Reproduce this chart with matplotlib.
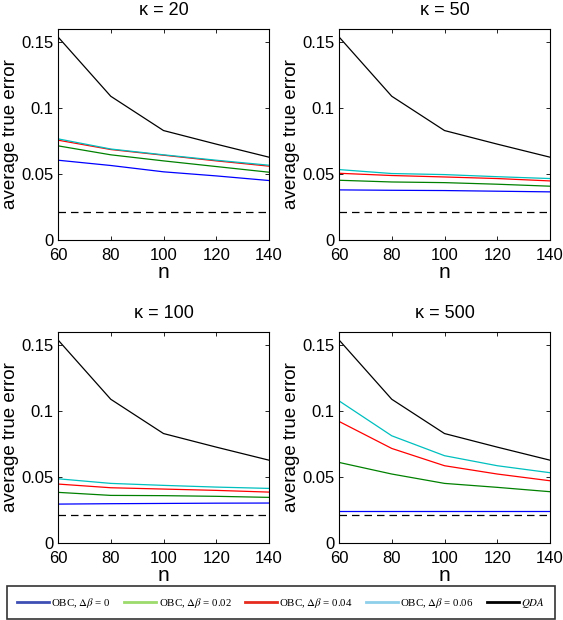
import matplotlib
matplotlib.use("Agg")
import matplotlib.pyplot as plt
from matplotlib.lines import Line2D

plt.rcParams['font.family'] = ['Liberation Sans', 'DejaVu Sans']
plt.rcParams['mathtext.fontset'] = 'stix'

n_values = [60, 80, 100, 120, 140]
kappas = [20, 50, 100, 500]
bayes_error = 0.021

qda = [0.154, 0.109, 0.083, 0.0727, 0.0628]

obc_db0 = {
    20: [0.0605, 0.0565, 0.0517, 0.0486, 0.0451],
    50: [0.0380, 0.0377, 0.0375, 0.0370, 0.0365],
    100: [0.0295, 0.0298, 0.0300, 0.0302, 0.0303],
    500: [0.0240, 0.0240, 0.0240, 0.0240, 0.0240],
}
obc_db002 = {
    20: [0.0714, 0.0646, 0.0600, 0.0557, 0.0514],
    50: [0.0453, 0.0440, 0.0435, 0.0423, 0.0408],
    100: [0.0384, 0.0361, 0.0359, 0.0354, 0.0346],
    500: [0.0611, 0.0523, 0.0452, 0.0422, 0.0389],
}
obc_db004 = {
    20: [0.0757, 0.0686, 0.0643, 0.0600, 0.0560],
    50: [0.0506, 0.0489, 0.0478, 0.0466, 0.0448],
    100: [0.0447, 0.0419, 0.0409, 0.0399, 0.0386],
    500: [0.0922, 0.0717, 0.0586, 0.0523, 0.0472],
}
obc_db006 = {
    20: [0.0767, 0.0690, 0.0646, 0.0605, 0.0567],
    50: [0.0534, 0.0504, 0.0496, 0.0480, 0.0466],
    100: [0.0487, 0.0452, 0.0437, 0.0424, 0.0414],
    500: [0.1078, 0.0813, 0.0662, 0.0586, 0.0533],
}

legend_labels = [r"OBC, $\Delta\beta$ = 0", r"OBC, $\Delta\beta$ = 0.02",
                 r"OBC, $\Delta\beta$ = 0.04", r"OBC, $\Delta\beta$ = 0.06", r"$QDA$"]
legend_colors = ["#3E4FB4", "#9CDB6C", "#E62A1E", "#8ECFEA", "#000000"]
plot_colors = ["#0000FF", "#008000", "#FF0000", "#00BFBF", "#000000"]

W, H = 563, 620
fig = plt.figure(figsize=(W / 100, H / 100), dpi=100)

panels = [
    (20, 58, 29),
    (50, 339, 29),
    (100, 58, 332),
    (500, 339, 332),
]
aw, ah = 211, 211

for kappa, px, py in panels:
    ax = fig.add_axes([px / W, 1 - (py + ah) / H, aw / W, ah / H])
    series = [obc_db0[kappa], obc_db002[kappa], obc_db004[kappa], obc_db006[kappa]]
    for vals, c in zip(series, plot_colors[:4]):
        ax.plot(n_values, vals, color=c, lw=0.9)
    ax.plot(n_values, qda, color='black', lw=0.9)
    ax.plot([n_values[0], n_values[-1]], [bayes_error, bayes_error], color='black',
            lw=0.9, ls=(0, (6, 4)))
    ax.set_xlim(60, 140)
    ax.set_ylim(0, 0.16)
    ax.set_xticks([60, 80, 100, 120, 140])
    ax.set_yticks([0, 0.05, 0.1, 0.15])
    ax.set_yticklabels(["0", "0.05", "0.1", "0.15"])
    ax.tick_params(direction='in', top=True, right=True, labelsize=12, length=3, width=0.6)
    ax.tick_params(axis='x', pad=6)
    ax.tick_params(axis='y', pad=3.5)
    for s in ax.spines.values():
        s.set_linewidth(0.8)
    ax.set_title("\u03ba = %d" % kappa, fontsize=13, pad=10)
    ax.set_xlabel("n", fontsize=15, labelpad=0)
    ax.set_ylabel("average true error", fontsize=13.5, labelpad=1)

handles = [Line2D([0], [0], color=c, lw=2.0) for c in legend_colors]
leg = fig.legend(handles, legend_labels, loc='center', ncol=5, mode='expand',
                 bbox_to_anchor=(7 / W, 1 - 617 / H, 548 / W, 29 / H), borderaxespad=0,
                 frameon=True, fancybox=False,
                 prop={'family': 'Liberation Serif', 'size': 7.8},
                 handlelength=3.0, handletextpad=0.2,
                 borderpad=0.9, edgecolor='black')
leg.get_frame().set_linewidth(1.2)

fig.savefig("out.png", dpi=100)
